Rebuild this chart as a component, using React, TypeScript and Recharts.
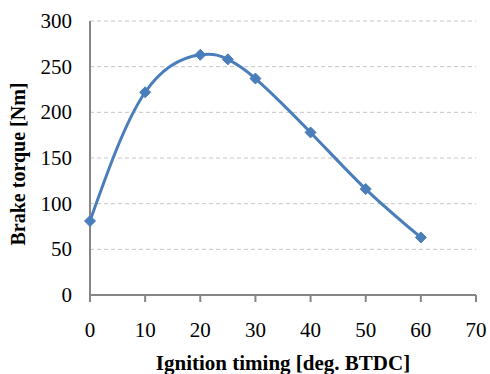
// App.tsx
import React from "react";
import {
  LineChart,
  Line,
  XAxis,
  YAxis,
  CartesianGrid,
  Label,
} from "recharts";

const timing = [0, 10, 20, 25, 30, 40, 50, 60];
const torque = [81, 222, 263, 258, 237, 178, 116, 63];
const xTicks = [0, 10, 20, 30, 40, 50, 60, 70];
const yTicks = [0, 50, 100, 150, 200, 250, 300];

const data = timing.map((t, i) => ({ timing: t, torque: torque[i] }));

const LINE = "#4a7ebb";
const AXIS = "#868686";
const FONT = "'Liberation Serif', 'Times New Roman', serif";

const Diamond = (props: any) => {
  const { cx, cy, index } = props;
  if (cx == null || cy == null) return null;
  const r = 5.5;
  return (
    <path
      key={`d-${index}`}
      d={`M${cx},${cy - r}L${cx + r},${cy}L${cx},${cy + r}L${cx - r},${cy}Z`}
      fill={LINE}
      stroke={LINE}
      strokeWidth={1}
    />
  );
};

// y tick labels sit 18px left of the axis line
const YTick = (props: any) => {
  const { y, payload } = props;
  return (
    <text
      x={72}
      y={y}
      textAnchor="end"
      dominantBaseline="central"
      fill="#000"
      fontSize={21}
      fontFamily={FONT}
    >
      {payload.value}
    </text>
  );
};

const YTitle = () => (
  <text
    x={18}
    y={164}
    transform="rotate(-90 18 164)"
    textAnchor="middle"
    dominantBaseline="central"
    fill="#000"
    fontSize={20}
    fontWeight="bold"
    fontFamily={FONT}
  >
    Brake torque [Nm]
  </text>
);

const App: React.FC = () => {
  return (
    <div style={{ position: "fixed", left: 0, top: 0, background: "#fff" }}>
      <LineChart
        width={490}
        height={374}
        data={data}
        margin={{ top: 21, right: 14, bottom: 0, left: 0 }}
      >
        <CartesianGrid
          vertical={false}
          stroke="#c6c6c6"
          strokeDasharray="4 3"
        />
        <XAxis
          type="number"
          dataKey="timing"
          domain={[0, 70]}
          ticks={xTicks}
          interval={0}
          height={79}
          stroke={AXIS}
          strokeWidth={2}
          tickSize={7}
          tickMargin={20}
          tick={{ fill: "#000", fontSize: 21, fontFamily: FONT }}
        >
          <Label
            value="Ignition timing [deg. BTDC]"
            position="insideBottom"
            offset={4}
            style={{
              fill: "#000",
              fontSize: 21,
              fontWeight: "bold",
              fontFamily: FONT,
            }}
          />
        </XAxis>
        <YAxis
          type="number"
          domain={[0, 300]}
          ticks={yTicks}
          interval={0}
          width={90}
          stroke={AXIS}
          strokeWidth={2}
          tickLine={false}
          tick={<YTick />}
        >
          <Label content={<YTitle />} />
        </YAxis>
        <Line
          type="natural"
          dataKey="torque"
          stroke={LINE}
          strokeWidth={3}
          dot={<Diamond />}
          activeDot={false}
          isAnimationActive={false}
        />
      </LineChart>
    </div>
  );
};

export default App;
